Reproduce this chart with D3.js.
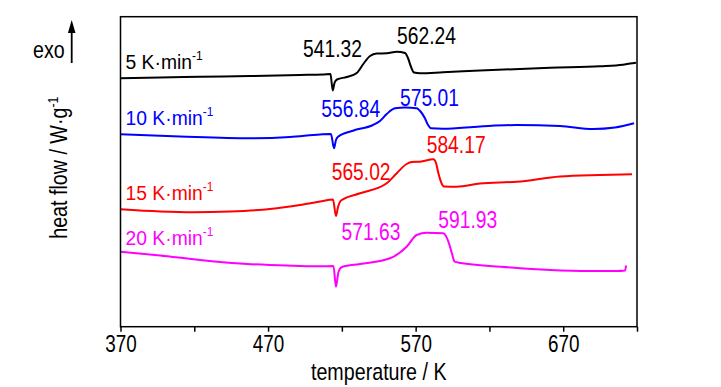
<!DOCTYPE html>
<html><head><meta charset="utf-8">
<script src="https://cdn.jsdelivr.net/npm/d3@7"></script>
<style>
html,body{margin:0;padding:0;background:#fff;}
svg{display:block;}
text{font-family:"Liberation Sans",Arial,sans-serif;}
</style>
</head><body>
<svg id="c" width="721" height="387"></svg>
<script>
// ---- data (temperature in K, heat flow in arbitrary offset units) ----
const seriesNames = ["5 K·min", "10 K·min", "15 K·min", "20 K·min"];
const seriesColors = ["#000000", "#0000ff", "#ff0000", "#ff00ff"];
const xTicks = [370, 470, 570, 670];
const xMinorTicks = [420, 520, 620, 720];

const curve5 = [[370,24.84],[396.8,24.92],[423.9,24.99],[457.8,25.07],[491.6,25.17],[507.2,25.22],[512.3,25.27],[513.8,23.62],[515.0,24.37],[516.7,24.72],[523.3,24.97],[530.1,25.37],[534.5,26.27],[539.1,27.07],[543.6,27.32],[550.4,27.34],[557.2,27.50],[562.8,27.37],[564.8,26.87],[566.9,25.97],[568.9,25.42],[573.0,25.34],[588.5,25.44],[613.6,25.62],[661.1,25.90],[694.9,26.04],[710.5,26.19],[715.3,26.32],[719.3,26.40]];
const curve10 = [[370,19.24],[410.3,19.02],[457.8,18.84],[484.9,18.97],[505.2,19.22],[512.6,19.27],[514.7,17.84],[516.0,18.67],[517.4,19.00],[527.5,19.60],[541.1,20.17],[545.8,20.57],[550.4,21.27],[556.0,21.84],[562.8,21.92],[570.7,21.84],[573.6,21.47],[576.3,20.84],[578.4,20.17],[580.4,19.84],[588.5,19.80],[613.6,20.02],[638.5,20.17],[667.8,20.07],[690.2,19.77],[705.1,19.92],[718.0,20.34]];
const curve15 = [[370,11.74],[396.8,11.52],[419.1,11.44],[444.2,11.52],[471.3,11.77],[491.6,12.17],[505.2,12.52],[514.0,12.72],[516.0,11.07],[517.4,11.97],[519.4,12.62],[532.3,13.34],[550.4,14.34],[557.2,15.34],[563.9,16.27],[567.5,16.47],[573.0,16.50],[582.0,16.74],[583.8,16.37],[585.4,15.34],[587.2,14.47],[589.2,14.02],[597.8,14.00],[613.6,14.32],[638.5,14.50],[667.8,15.02],[694.9,15.17],[716.6,15.24]];
const curve20 = [[370,7.50],[396.8,7.12],[423.9,6.67],[451.0,6.32],[471.3,6.17],[491.6,6.07],[505.2,6.04],[514.3,6.07],[516.0,4.00],[517.7,5.47],[520.1,5.97],[532.3,6.27],[552.6,6.84],[563.9,8.00],[570.7,9.17],[577.5,9.40],[588.7,9.34],[592.6,8.34],[594.5,7.37],[596.5,6.50],[600.6,6.37],[627.7,6.00],[661.1,5.67],[688.2,5.57],[706.2,5.57],[711.9,5.62],[712.6,6.12]];
const curves = [curve5, curve10, curve15, curve20];

// series label anchors (T, heat flow)
const seriesLabelAt = [[373.4,25.77],[373.4,20.17],[373.4,12.72],[373.4,8.17]];
// peak temperature annotations: text, series index, anchor (T, heat flow)
const peakTexts = ["541.32","562.24","556.84","575.01","565.02","584.17","571.63","591.93"];
const peakSeries = [0,0,1,1,2,2,3,3];
const peakAt = [[493.7,26.94],[557.4,28.27],[506.1,21.0],[559.4,22.12],[513.1,14.70],[577.5,17.37],[519.8,8.67],[585.4,9.84]];

// ---- layout ----
const L = 120.5, R = 637, T = 16.7, B = 326.7;
const NX = 0.82;   // condensed look
const svg = d3.select("#c");
svg.append("rect").attr("width",721).attr("height",387).attr("fill","#fff");

const x = d3.scaleLinear().domain([370,720]).range([L,R]);
const y = d3.scaleLinear().domain([0,31]).range([B,T]);

const line = d3.line().x(d=>x(d[0])).y(d=>y(d[1])).curve(d3.curveMonotoneX);

function ntext(px, py, size, sx, rot){
  return svg.append("text").attr("font-size",size)
    .attr("transform",`translate(${px},${py})${rot?` rotate(${rot})`:""} scale(${sx},1)`);
}

curves.forEach((c,i)=>{
  svg.append("path").datum(c).attr("d",line)
    .attr("fill","none").attr("stroke",seriesColors[i]).attr("stroke-width",2)
    .attr("stroke-linejoin","round");
});

// frame
svg.append("rect").attr("x",L).attr("y",T).attr("width",R-L).attr("height",B-T)
  .attr("fill","none").attr("stroke","#000").attr("stroke-width",1.5);

// bottom axis
const ax = svg.append("g").attr("transform",`translate(0,${B})`)
  .call(d3.axisBottom(x).tickValues(xTicks).tickSize(5).tickPadding(4).tickFormat(d3.format("d")));
ax.select(".domain").remove();
ax.selectAll(".tick line").attr("stroke-width",1.5);
ax.selectAll(".tick text").attr("font-family",null).attr("font-size",23).attr("fill","#000")
  .attr("transform",`scale(${NX},1)`);
const axm = svg.append("g").attr("transform",`translate(0,${B})`)
  .call(d3.axisBottom(x).tickValues(xMinorTicks).tickSize(5).tickFormat(""));
axm.select(".domain").remove();
axm.selectAll(".tick line").attr("stroke-width",1.5);
ax.attr("font-family",null); axm.attr("font-family",null);

ntext((L+R)/2, 380, 24, NX).attr("text-anchor","middle").attr("fill","#000").text("temperature / K");

// y label
const yl = ntext(67, (T+B)/2-4, 24, NX, -90).attr("text-anchor","middle").attr("fill","#000");
yl.append("tspan").text("heat flow / W·g");
yl.append("tspan").attr("font-size",15).attr("dy",-9).text("-1");

// exo arrow
ntext(33, 58.3, 24, NX).attr("fill","#000").text("exo");
svg.append("line").attr("x1",71.7).attr("x2",71.7).attr("y1",63).attr("y2",30)
  .attr("stroke","#000").attr("stroke-width",1.8);
svg.append("path").attr("d","M71.7,20 L67.9,33 L75.5,33 Z").attr("fill","#000");

// series labels
seriesNames.forEach((n,i)=>{
  const t = ntext(x(seriesLabelAt[i][0]), y(seriesLabelAt[i][1]), 21, 0.92).attr("fill",seriesColors[i]);
  t.append("tspan").text(n);
  t.append("tspan").attr("font-size",13).attr("dy",-9).text("-1");
});

// peak labels
peakTexts.forEach((s,i)=>{
  ntext(x(peakAt[i][0]), y(peakAt[i][1]), 23.5, NX).attr("fill",seriesColors[peakSeries[i]]).text(s);
});
</script>
</body></html>
